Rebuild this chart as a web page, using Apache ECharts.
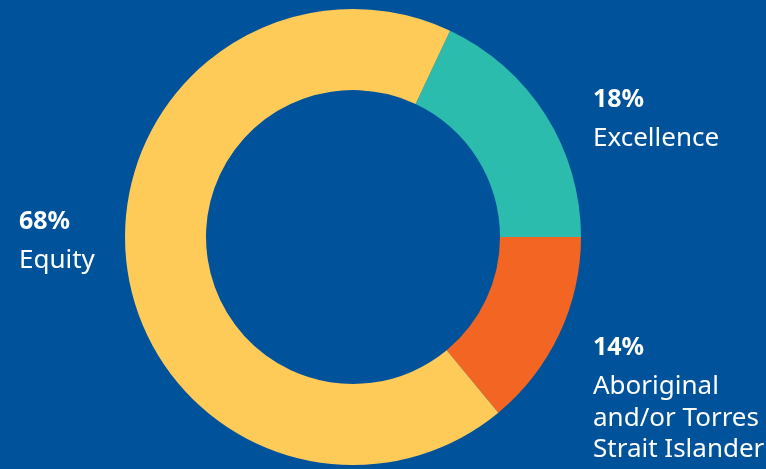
<!DOCTYPE html>
<html><head><meta charset="utf-8">
<script src="https://cdn.jsdelivr.net/npm/echarts@6/dist/echarts.min.js"></script>
<style>html,body{margin:0;padding:0;background:#00529B;}#c{width:766px;height:469px;}</style>
</head><body><div id="c"></div>
<script>
const categories = ['Excellence', 'Aboriginal\nand/or Torres\nStrait Islander', 'Equity'];
const values = [18, 14, 68];
const colors = ['#2BBCAE', '#F26522', '#FFCB58'];
const labelPos = [[593, 87], [593, 335], [19, 209]];

const chart = echarts.init(document.getElementById('c'));
const font = '"Noto Sans", sans-serif';
const graphics = [];
categories.forEach((c, i) => {
  graphics.push({type: 'text', left: labelPos[i][0], top: labelPos[i][1],
    style: {text: values[i] + '%', fill: '#fff', font: 'bold 25px ' + font}});
  graphics.push({type: 'text', left: labelPos[i][0], top: labelPos[i][1] + 36,
    style: {text: c, fill: '#fff', font: '26px ' + font, lineHeight: 31.5}});
});
chart.setOption({
  backgroundColor: '#00529B',
  animation: false,
  graphic: graphics,
  series: [{
    type: 'pie',
    center: [353, 237],
    radius: [147, 228],
    startAngle: 64.8,
    label: {show: false},
    labelLine: {show: false},
    itemStyle: {borderWidth: 0},
    data: categories.map((c, i) => ({name: c, value: values[i], itemStyle: {color: colors[i]}}))
  }]
});
</script></body></html>
